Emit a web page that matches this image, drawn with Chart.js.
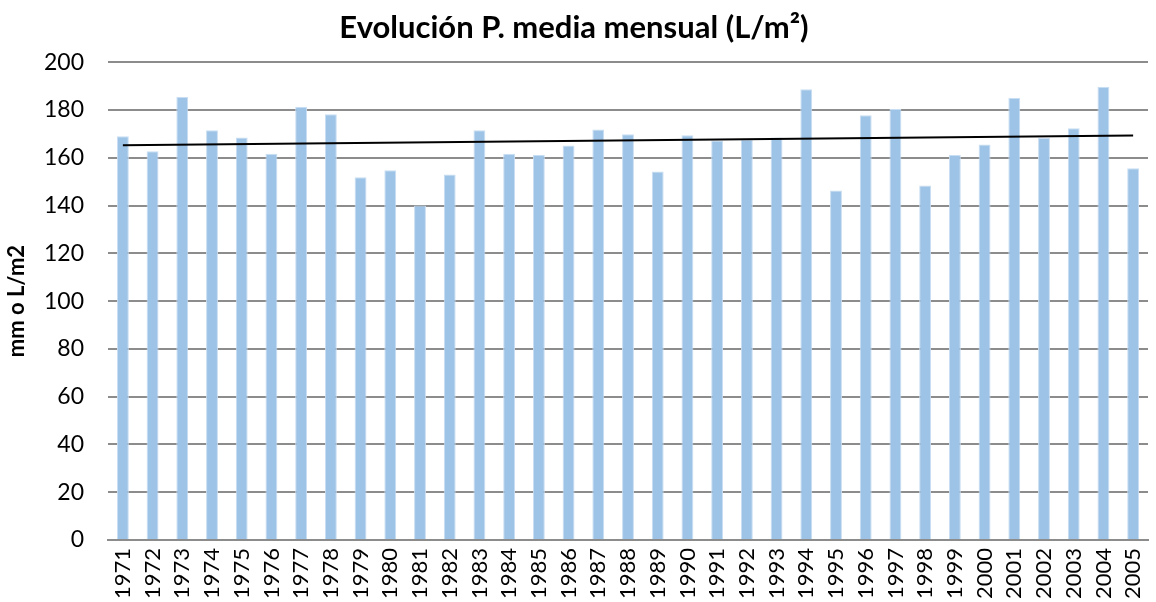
<!DOCTYPE html>
<html lang="es">
<head>
<meta charset="UTF-8" />
<script src="https://cdn.jsdelivr.net/npm/chart.js"></script>
<title>Evolución P. media mensual</title>
<style>
  html, body { margin: 0; padding: 0; background: #fff; }
  #wrap { width: 1156px; height: 602px; }
</style>
</head>
<body>
<div id="wrap"><canvas id="grafico" width="1156" height="602"></canvas></div>
<script>
var anos = ["1971","1972","1973","1974","1975","1976","1977","1978","1979","1980",
            "1981","1982","1983","1984","1985","1986","1987","1988","1989","1990",
            "1991","1992","1993","1994","1995","1996","1997","1998","1999","2000",
            "2001","2002","2003","2004","2005"];
var precipitacion = [169, 162.7, 185.4, 171.5, 168.5, 161.7, 181.3, 178.2, 151.8, 154.8,
                     140, 153, 171.5, 161.7, 161.3, 165.1, 171.8, 169.8, 154.2, 169.4,
                     167.2, 167.6, 168.5, 188.7, 146.3, 177.8, 180.4, 148.4, 161.2, 165.6,
                     185, 168.3, 172.4, 189.7, 155.6];
// linea de tendencia: extremos
var tendenciaAnos = ["1971", "2005"];
var tendenciaValores = [165.2, 169.3];
var yTicks = [0, 20, 40, 60, 80, 100, 120, 140, 160, 180, 200];

var fuente = "Lato, 'Open Sans', sans-serif";

var ctx = document.getElementById("grafico");
var chart = new Chart(ctx, {
  type: "bar",
  data: {
    labels: anos,
    datasets: [
      {
        type: "line",
        label: "Tendencia",
        data: tendenciaAnos.map(function (a, i) { return { x: a, y: tendenciaValores[i] }; }),
        borderColor: "#000000",
        borderWidth: 2,
        pointRadius: 0,
        fill: false,
        order: 0
      },
      {
        label: "P. media mensual",
        data: precipitacion,
        backgroundColor: "#9dc3e6",
        borderColor: "#c9def2",
        borderWidth: 1,
        barPercentage: 0.4,
        categoryPercentage: 1,
        order: 1
      }
    ]
  },
  options: {
    responsive: false,
    animation: false,
    layout: { padding: { left: 0, right: 8, top: 0, bottom: 0 } },
    plugins: {
      legend: { display: false },
      tooltip: { enabled: false },
      title: {
        display: true,
        text: "Evolución P. media mensual (L/m²)",
        color: "#000",
        font: { family: fuente, size: 31, weight: "bold" },
        padding: { top: 9, bottom: 16 }
      }
    },
    scales: {
      x: {
        grid: { display: false, drawTicks: false },
        border: { display: true, color: "#8c8c8c", width: 2 },
        ticks: {
          color: "#000",
          font: { family: fuente, size: 22 },
          minRotation: 90,
          maxRotation: 90,
          autoSkip: false,
          padding: 8
        },
        afterFit: function (axis) {
          axis.height = 62;
          axis.paddingLeft = 0;
          axis.paddingRight = 0;
        }
      },
      y: {
        min: 0,
        max: 200,
        afterBuildTicks: function (axis) {
          axis.ticks = yTicks.map(function (v) { return { value: v }; });
        },
        grid: { color: "#8c8c8c", lineWidth: 2, drawTicks: false },
        border: { display: false },
        ticks: {
          color: "#000",
          font: { family: fuente, size: 23 },
          padding: 24
        },
        title: {
          display: true,
          text: "mm o L/m2",
          color: "#000",
          font: { family: fuente, size: 22, weight: "bold" },
          padding: { top: 4, bottom: 0 }
        },
        afterFit: function (axis) { axis.width = 108; }
      }
    }
  }
});
</script>
</body>
</html>
